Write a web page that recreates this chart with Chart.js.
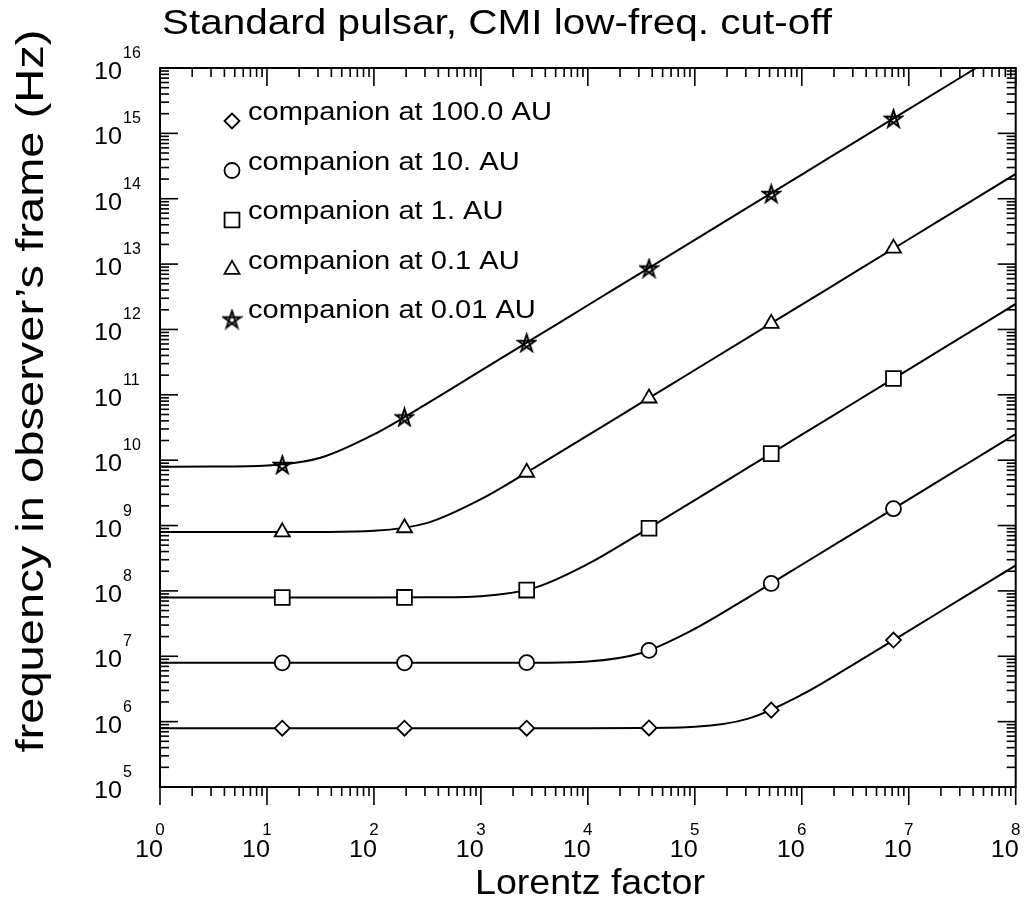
<!DOCTYPE html>
<html>
<head>
<meta charset="utf-8">
<title>Standard pulsar, CMI low-freq. cut-off</title>
<script src="https://cdn.jsdelivr.net/npm/chart.js@4.4.1/dist/chart.umd.min.js"></script>
<style>
  html, body { margin: 0; padding: 0; background: #fff; }
  #wrap { width: 1028px; height: 906px; }
</style>
</head>
<body>
<div id="wrap"><canvas id="pulsar_chart" width="1028" height="906"></canvas></div>
<script>
// --- data ---
const seriesLabels = [
  'companion at 100.0 AU',
  'companion at 10. AU',
  'companion at 1. AU',
  'companion at 0.1 AU',
  'companion at 0.01 AU'
];

// Lorentz factor of the symbols
const markerGamma = [13.9, 193, 2680, 3.73e4, 5.18e5, 7.2e6];
const markers100AU = [7.94e5, 7.94e5, 7.94e5, 8.0e5, 1.50e6, 1.77e7];
const markers10AU = [7.94e6, 7.94e6, 7.98e6, 1.23e7, 1.30e8, 1.81e9];
const markers1AU = [7.94e7, 7.95e7, 1.03e8, 9.1e8, 1.26e10, 1.78e11];
const markers01AU = [7.94e8, 9.2e8, 6.5e9, 8.9e10, 1.23e12, 1.74e13];
const markers001AU = [8.6e9, 4.6e10, 6.3e11, 8.7e12, 1.2e14, 1.7e15];

// curves, sampled every half decade of the Lorentz factor (log10 values)
const curveLogGamma = [0, 0.5, 1, 1.5, 2, 2.5, 3, 3.5, 4, 4.5, 5, 5.5, 6, 6.5, 7, 7.5, 8];
const curve100AU = [5.90, 5.90, 5.90, 5.90, 5.90, 5.90, 5.90, 5.90, 5.90, 5.902, 5.920, 6.046, 6.412, 6.892, 7.39, 7.89, 8.39];
const curve10AU = [6.90, 6.90, 6.90, 6.90, 6.90, 6.90, 6.90, 6.902, 6.921, 7.051, 7.421, 7.902, 8.40, 8.90, 9.40, 9.90, 10.40];
const curve1AU = [7.90, 7.90, 7.90, 7.90, 7.90, 7.902, 7.920, 8.046, 8.412, 8.892, 9.39, 9.89, 10.39, 10.89, 11.39, 11.89, 12.39];
const curve01AU = [8.90, 8.90, 8.90, 8.902, 8.919, 9.041, 9.403, 9.882, 10.38, 10.88, 11.38, 11.88, 12.38, 12.88, 13.38, 13.88, 14.38];
const curve001AU = [9.90, 9.902, 9.918, 10.036, 10.394, 10.87, 11.37, 11.87, 12.37, 12.87, 13.37, 13.87, 14.37, 14.87, 15.37, 15.87, 16.37];

// axis decades
const xTickExps = [0, 1, 2, 3, 4, 5, 6, 7, 8];
const yTickExps = [5, 6, 7, 8, 9, 10, 11, 12, 13, 14, 15, 16];
const minorSteps = [2, 3, 4, 5, 6, 7, 8, 9];

const FONT = '"Liberation Sans", Arial, Helvetica, sans-serif';

// five-pointed star symbol (Chart.js 'star' is an asterisk)
function makeStar(size) {
  const c = document.createElement('canvas');
  c.width = size;
  c.height = size;
  const g = c.getContext('2d');
  const r = size / 2 - 1.5;
  const cx = size / 2, cy = size / 2 + 1;
  g.beginPath();
  for (let i = 0; i < 5; i++) {
    const a = -Math.PI / 2 + i * 4 * Math.PI / 5;
    const px = cx + r * Math.cos(a), py = cy + r * Math.sin(a);
    if (i === 0) g.moveTo(px, py); else g.lineTo(px, py);
  }
  g.closePath();
  g.lineWidth = 2;
  g.strokeStyle = '#000';
  g.stroke();
  return c;
}
const starImg = makeStar(21);

const symbols = [
  { style: 'rectRot', radius: 7.5 },
  { style: 'circle', radius: 7.5 },
  { style: 'rect', radius: 10.5 },
  { style: 'triangle', radius: 8.7 },
  { style: starImg, radius: 10 }
];
const markerSets = [markers100AU, markers10AU, markers1AU, markers01AU, markers001AU];
const curveSets = [curve100AU, curve10AU, curve1AU, curve01AU, curve001AU];

const datasets = [];
curveSets.forEach((c, i) => {
  datasets.push({
    label: seriesLabels[i] + ' (curve)',
    data: curveLogGamma.map((g, k) => ({ x: Math.pow(10, g), y: Math.pow(10, c[k]) })),
    showLine: true,
    borderColor: '#000',
    borderWidth: 2,
    pointRadius: 0,
    cubicInterpolationMode: 'monotone',
    clip: 0,
    order: 2
  });
});
markerSets.forEach((m, i) => {
  datasets.push({
    label: seriesLabels[i],
    data: markerGamma.map((g, k) => ({ x: g, y: m[k] })),
    showLine: false,
    pointStyle: symbols[i].style,
    pointRadius: symbols[i].radius,
    pointBackgroundColor: '#fff',
    pointBorderColor: '#000',
    pointBorderWidth: 1.8,
    order: 1
  });
});

function txt(ctx, s, x, y, size, align, sx) {
  ctx.save();
  ctx.translate(x, y);
  ctx.scale(sx || 1, 1);
  ctx.font = size + 'px ' + FONT;
  ctx.textAlign = align;
  ctx.textBaseline = 'alphabetic';
  ctx.fillText(s, 0, 0);
  ctx.restore();
}
function stretchFor(ctx, s, size, width) {
  ctx.font = size + 'px ' + FONT;
  return width / ctx.measureText(s).width;
}
function seg(ctx, x1, y1, x2, y2) {
  ctx.beginPath();
  ctx.moveTo(x1, y1);
  ctx.lineTo(x2, y2);
  ctx.stroke();
}

const axesPlugin = {
  id: 'idlAxes',
  afterDraw(chart) {
    const { ctx, chartArea: a } = chart;
    const xs = chart.scales.x, ys = chart.scales.y;
    ctx.save();
    ctx.strokeStyle = '#000';
    ctx.fillStyle = '#000';
    ctx.lineWidth = 2;
    ctx.strokeRect(a.left, a.top, a.right - a.left, a.bottom - a.top);

    // x ticks: top inward, bottom outward
    ctx.lineWidth = 1.6;
    xTickExps.forEach((e, i) => {
      const px = xs.getPixelForValue(Math.pow(10, e));
      seg(ctx, px, a.top, px, a.top + 18);
      seg(ctx, px, a.bottom, px, a.bottom + 18);
      if (i < xTickExps.length - 1) {
        minorSteps.forEach(m => {
          const q = xs.getPixelForValue(m * Math.pow(10, e));
          seg(ctx, q, a.top, q, a.top + 9);
          seg(ctx, q, a.bottom, q, a.bottom + 9);
        });
      }
      txt(ctx, String(e), px, 835, 17, 'center');
      txt(ctx, '10', px + 3, 857, 24, 'right', 1.05);
    });

    // y ticks: both sides inward
    yTickExps.forEach((e, i) => {
      const py = ys.getPixelForValue(Math.pow(10, e));
      seg(ctx, a.left, py, a.left + 18, py);
      seg(ctx, a.right, py, a.right - 18, py);
      if (i < yTickExps.length - 1) {
        minorSteps.forEach(m => {
          const q = ys.getPixelForValue(m * Math.pow(10, e));
          seg(ctx, a.left, q, a.left + 9, q);
          seg(ctx, a.right, q, a.right - 9, q);
        });
      }
      txt(ctx, '10', 122, py + 11, 24, 'right', 1.05);
      txt(ctx, String(e), 123, py - 10, 16, 'left');
    });

    // titles
    const title = 'Standard pulsar, CMI low-freq. cut-off';
    txt(ctx, title, 162, 34, 35, 'left', stretchFor(ctx, title, 35, 670));
    const xTitle = 'Lorentz factor';
    txt(ctx, xTitle, 590, 894, 35, 'center', stretchFor(ctx, xTitle, 35, 230));
    const yTitle = "frequency in observer\u2019s frame (Hz)";
    const ysx = stretchFor(ctx, yTitle, 39, 723);
    ctx.save();
    ctx.translate(43, 391);
    ctx.rotate(-Math.PI / 2);
    txt(ctx, yTitle, 0, 0, 39, 'center', ysx);
    ctx.restore();

    // legend inside the plot
    const lsx = stretchFor(ctx, seriesLabels[0], 25, 304);
    seriesLabels.forEach((lab, i) => {
      const base = 120 + 49.5 * i;
      const sym = symbols[i];
      ctx.save();
      ctx.fillStyle = '#fff';
      ctx.strokeStyle = '#000';
      ctx.lineWidth = 1.8;
      const opts = { pointStyle: sym.style, rotation: 0, radius: sym.radius, borderWidth: 1.8 };
      if (Chart.helpers && Chart.helpers.drawPoint) {
        Chart.helpers.drawPoint(ctx, opts, 232, base + 1);
      }
      ctx.restore();
      txt(ctx, lab, 248, base, 25, 'left', lsx);
    });
    ctx.restore();
  }
};

const canvas = document.getElementById('pulsar_chart');
new Chart(canvas, {
  type: 'scatter',
  data: { datasets: datasets },
  options: {
    responsive: false,
    animation: false,
    devicePixelRatio: 1,
    layout: { padding: { left: 160, top: 68, right: 6, bottom: 119 } },
    scales: {
      x: { type: 'logarithmic', min: 1, max: 1e8, display: false },
      y: { type: 'logarithmic', min: 1e5, max: 1e16, display: false }
    },
    plugins: {
      legend: { display: false },
      tooltip: { enabled: false },
      title: { display: false }
    }
  },
  plugins: [axesPlugin]
});
</script>
</body>
</html>
